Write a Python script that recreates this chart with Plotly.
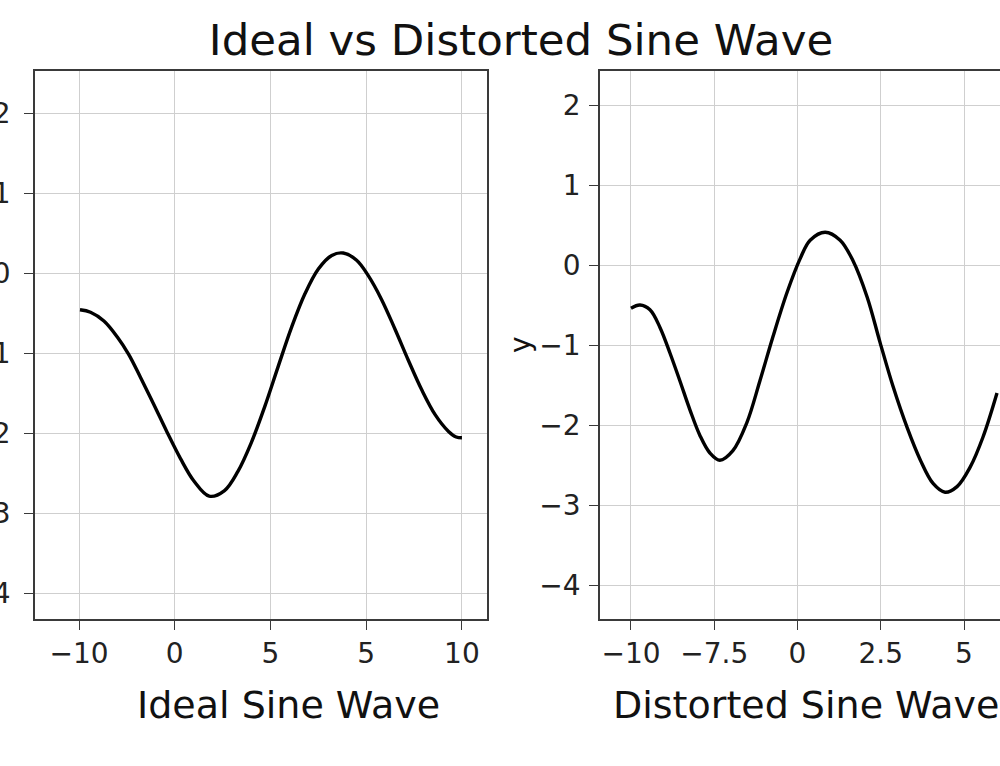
import plotly.graph_objects as go

# ---- data ----
ideal_x = [-9.95, -9.4, -8.7, -8.0, -7.4, -6.8, -6.1, -5.4, -4.7, -4.0,
           -3.2, -2.4, -1.7, -1.0, -0.3, 0.4, 1.1, 1.8, 2.5, 3.2,
           3.8, 4.5, 5.1, 5.8, 6.5, 7.2, 7.9, 8.6, 9.3, 9.7, 10.0]
ideal_y = [-0.46, -0.49, -0.60, -0.80, -1.02, -1.30, -1.64, -1.99, -2.32, -2.60,
           -2.79, -2.72, -2.48, -2.12, -1.67, -1.17, -0.68, -0.26, 0.05, 0.22,
           0.25, 0.16, -0.03, -0.33, -0.70, -1.09, -1.46, -1.77, -1.98, -2.05, -2.06]

dist_x = [-10.0, -9.73, -9.43, -9.13, -8.83, -8.53, -8.23, -7.93, -7.63, -7.33,
          -6.94, -6.52, -6.13, -5.74, -5.32, -4.92, -4.62, -4.17, -3.72, -3.33,
          -2.91, -2.52, -2.13, -1.71, -1.32, -0.93, -0.57, -0.21, 0.18, 0.57, 0.99]
dist_y = [-0.54, -0.50, -0.56, -0.78, -1.10, -1.45, -1.81, -2.13, -2.35, -2.44,
          -2.32, -1.97, -1.45, -0.90, -0.35, 0.08, 0.31, 0.41, 0.31, 0.05,
          -0.40, -0.97, -1.52, -2.03, -2.43, -2.73, -2.84, -2.77, -2.53, -2.15, -1.60]

ideal_tickvals = [-10, -5, 0, 5, 10]
ideal_ticktext = ["\u221210", "0", "5", "5", "10"]
dist_tickvals = [-10, -7.5, -5, -2.5, 0]
dist_ticktext = ["\u221210", "\u22127.5", "0", "2.5", "5"]
y_tickvals = [2, 1, 0, -1, -2, -3, -4]
y_ticktext = ["2", "1", "0", "\u22121", "\u22122", "\u22123", "\u22124"]

FONT = "DejaVu Sans"
fig = go.Figure()
fig.add_trace(go.Scatter(x=ideal_x, y=ideal_y, mode="lines",
                         line=dict(color="black", width=3.4, shape="spline", smoothing=1.0),
                         xaxis="x", yaxis="y", showlegend=False))
fig.add_trace(go.Scatter(x=dist_x, y=dist_y, mode="lines",
                         line=dict(color="black", width=3.4, shape="spline", smoothing=1.0),
                         xaxis="x2", yaxis="y2", showlegend=False))

axis_common = dict(showgrid=True, gridcolor="#cfcfcf", gridwidth=1, zeroline=False,
                   showline=True, linecolor="#3a3a3a", linewidth=1.6,
                   ticks="outside", ticklen=9, tickwidth=1.4, tickcolor="#3a3a3a",
                   automargin=False,
                   tickfont=dict(family=FONT, size=28, color="#222222"))

fig.update_layout(
    width=1000, height=766,
    margin=dict(l=35, r=0, t=71, b=147, autoexpand=False),
    paper_bgcolor="white", plot_bgcolor="white",
    font=dict(family=FONT, color="#222222"),
    title=dict(text="Ideal vs Distorted Sine Wave", x=(521 - 35) / 965, xanchor="center", xref="paper",
               y=0.948, yanchor="middle", yref="container",
               font=dict(family=FONT, size=43.5, color="#111111")),
    xaxis=dict(domain=[0, 0.4684], range=[-12.30, 11.31], tickvals=ideal_tickvals, ticktext=ideal_ticktext,
               mirror=True, anchor="y", **axis_common),
    yaxis=dict(domain=[0, 1], range=[-4.325, 2.525], tickvals=y_tickvals, ticktext=y_ticktext,
               mirror=True, anchor="x", ticklabelstandoff=8, **axis_common),
    xaxis2=dict(domain=[0.5855, 1], range=[-10.93, 1.08], tickvals=dist_tickvals, ticktext=dist_ticktext,
                mirror=True, anchor="y2", **axis_common),
    yaxis2=dict(domain=[0, 1], range=[-4.425, 2.425], tickvals=y_tickvals, ticktext=y_ticktext,
                mirror=False, anchor="x2", ticklabelstandoff=3, **axis_common),
)

fig.add_annotation(text="Ideal Sine Wave", xref="paper", yref="paper", x=(288 - 35) / 965, y=-(705 - 619) / 548,
                   xanchor="center", yanchor="middle", showarrow=False,
                   font=dict(family=FONT, size=38, color="#111111"))
fig.add_annotation(text="Distorted Sine Wave", xref="paper", yref="paper", x=(611 - 35) / 965, y=-(705 - 619) / 548,
                   xanchor="left", yanchor="middle", showarrow=False,
                   font=dict(family=FONT, size=38, color="#111111"))
fig.add_annotation(text="y", xref="paper", yref="paper", x=(520 - 35) / 965, y=(619 - 345) / 548,
                   xanchor="center", yanchor="middle", showarrow=False, textangle=-90,
                   font=dict(family=FONT, size=28, color="#111111"))

fig.write_html("out.html")
